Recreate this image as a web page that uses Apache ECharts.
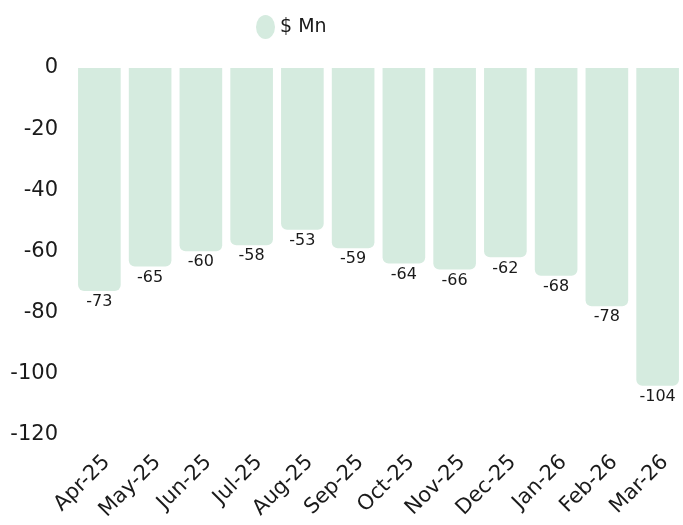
<!DOCTYPE html>
<html>
<head>
<meta charset="utf-8">
<script src="https://cdn.jsdelivr.net/npm/echarts@6/dist/echarts.min.js"></script>
<style>
  html, body { margin: 0; padding: 0; background: #fff; }
  #chart { width: 683px; height: 525px; }
</style>
</head>
<body>
<div id="chart"></div>
<script>
// months on the x axis
const months = ['Apr-25', 'May-25', 'Jun-25', 'Jul-25', 'Aug-25', 'Sep-25',
  'Oct-25', 'Nov-25', 'Dec-25', 'Jan-26', 'Feb-26', 'Mar-26'];
// $ Mn values
const values = [-73, -65, -60, -58, -53, -59, -64, -66, -62, -68, -78, -104];
const seriesName = '$ Mn';

const font = 'DejaVu Sans';
let chart = echarts.init(document.getElementById('chart'));

let option = {
  animation: false,
  textStyle: { fontFamily: font },
  legend: {
    left: 251,
    top: 10,
    // slightly tall oval marker like the original
    icon: 'path://M0,12a9.5,12 0 1,0 19,0a9.5,12 0 1,0 -19,0',
    itemWidth: 19,
    itemHeight: 24,
    itemGap: 10,
    textStyle: { fontSize: 19, color: '#1a1a1a', fontFamily: font },
    data: [seriesName]
  },
  grid: {
    left: 74,
    top: 68,
    width: 616,
    height: 366.5
  },
  xAxis: {
    type: 'category',
    data: months,
    position: 'bottom',
    axisLine: { show: false, onZero: false },
    axisTick: { show: false },
    axisLabel: {
      rotate: 45,
      fontSize: 21,
      color: '#1a1a1a',
      margin: 17,
      interval: 0,
      verticalAlign: 'top',
      fontFamily: font
    }
  },
  yAxis: {
    type: 'value',
    min: -120,
    max: 0,
    interval: 20,
    splitLine: { show: false },
    axisLine: { show: false },
    axisTick: { show: false },
    axisLabel: { fontSize: 21, color: '#1a1a1a', margin: 16, fontFamily: font, padding: [4, 0, 0, 0] }
  },
  series: [
    {
      name: seriesName,
      type: 'bar',
      data: values,
      barCategoryGap: '16%',
      itemStyle: {
        color: '#d5ebdf',
        borderRadius: [0, 0, 6, 6]
      },
      label: {
        show: true,
        position: 'bottom',
        distance: 3,
        fontSize: 16,
        color: '#1a1a1a',
        fontFamily: font
      }
    }
  ]
};

chart.setOption(option);
</script>
</body>
</html>
